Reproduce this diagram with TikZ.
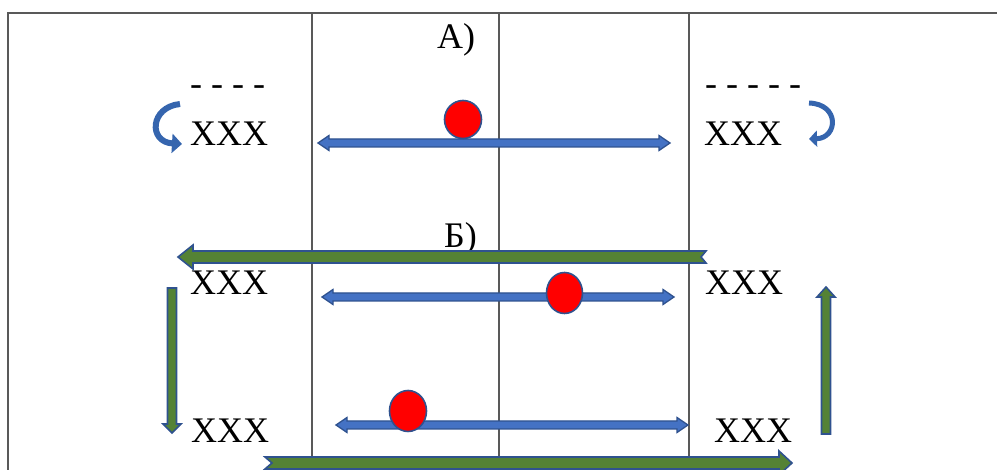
\documentclass[tikz,border=0pt]{standalone}
\usepackage{fontspec}
\setmainfont{Liberation Serif}
\usetikzlibrary{arrows.meta,shapes.geometric}
\definecolor{barblue}{HTML}{4472C4}
\definecolor{edgeblue}{HTML}{2F528F}
\definecolor{bargreen}{HTML}{548235}
\definecolor{gridgray}{HTML}{595959}
\definecolor{curlblue}{HTML}{3565AE}
\tikzset{
 lbl/.style={inner sep=0pt, anchor=base west, font=\fontsize{36}{40}\selectfont},
 bluebar/.style={fill=barblue, draw=edgeblue, line width=1.3pt, line join=miter},
 greenbar/.style={fill=bargreen, draw=edgeblue, line width=1.6pt},
 ball/.style={ellipse, fill=red, draw=edgeblue, line width=1.6pt, inner sep=0pt},
 gridline/.style={draw=gridgray, line width=1.2pt},
 curl/.style={draw=curlblue, line width=6pt, -{Triangle[length=10pt,width=19pt]}}
}
\newcommand\blockdbl[3]{%
 \path[bluebar] ({#1},{#3}) -- ({#1+11},{#3-7.5}) -- ({#1+11},{#3-4}) -- ({#2-11},{#3-4})
  -- ({#2-11},{#3-7.5}) -- ({#2},{#3}) -- ({#2-11},{#3+7.5}) -- ({#2-11},{#3+4})
  -- ({#1+11},{#3+4}) -- ({#1+11},{#3+7.5}) -- cycle;}
\begin{document}
\begin{tikzpicture}[x=1pt,y=-1pt]
\useasboundingbox (0,0) rectangle (997,470);
\begin{scope}
\clip (0,0) rectangle (997,470);
% table grid
\coordinate (tl) at (8,13);
\coordinate (tr) at (997,13);
\coordinate (bl) at (8,470);
\draw[gridline] (bl) -- (tl) -- (tr);
\draw[gridline] (312,13) -- (312,470);
\draw[gridline] (499,13) -- (499,470);
\draw[gridline] (689,13) -- (689,470);
% labels
\node[lbl] (tA) at (437,49) {А)};
\node[lbl] (tB) at (444,248) {Б)};
\node[lbl] (dL) at (190,96) {- - - -};
\node[lbl] (dR) at (705,96) {- - - - -};
\node[lbl] (xA1) at (190,146) {XXX};
\node[lbl] (xA2) at (704,146) {XXX};
\node[lbl] (xB1) at (190,295) {XXX};
\node[lbl] (xB2) at (705,295) {XXX};
\node[lbl] (xC1) at (191,443) {XXX};
\node[lbl] (xC2) at (714,443) {XXX};
% curled arrows
\draw[curl] (180,104) .. controls (150,107) and (148,142) .. (182,144);
\draw[curl, line width=5pt, -{Triangle[length=8pt,width=16pt]}] (809,103) .. controls (840,104) and (838,138) .. (809,139);
% blue double arrows
\blockdbl{318}{670}{143}
\blockdbl{322}{674}{297}
\blockdbl{336}{688}{425}
% balls
\node[ball, minimum width=37pt, minimum height=38pt] (bA) at (463,119.5) {};
\node[ball, minimum width=36pt, minimum height=41pt] (bB) at (564.5,293) {};
\node[ball, minimum width=37pt, minimum height=41pt] (bC) at (408,411) {};
% green arrows
\path[greenbar] (178,257) -- (193,245) -- (193,251) -- (706,251) -- (701,257)
  -- (706,263) -- (193,263) -- (193,269) -- cycle;
\path[greenbar] (792,463) -- (779,451) -- (779,457) -- (265,457) -- (272,463)
  -- (265,469) -- (779,469) -- (779,475) -- cycle;
\path[greenbar] (172,433) -- (163,424) -- (167.5,424) -- (167.5,288) -- (176.5,288)
  -- (176.5,424) -- (181,424) -- cycle;
\path[greenbar] (826,287) -- (817,297) -- (821.5,297) -- (821.5,434) -- (830.5,434)
  -- (830.5,297) -- (835,297) -- cycle;
\end{scope}
\end{tikzpicture}
\end{document}
